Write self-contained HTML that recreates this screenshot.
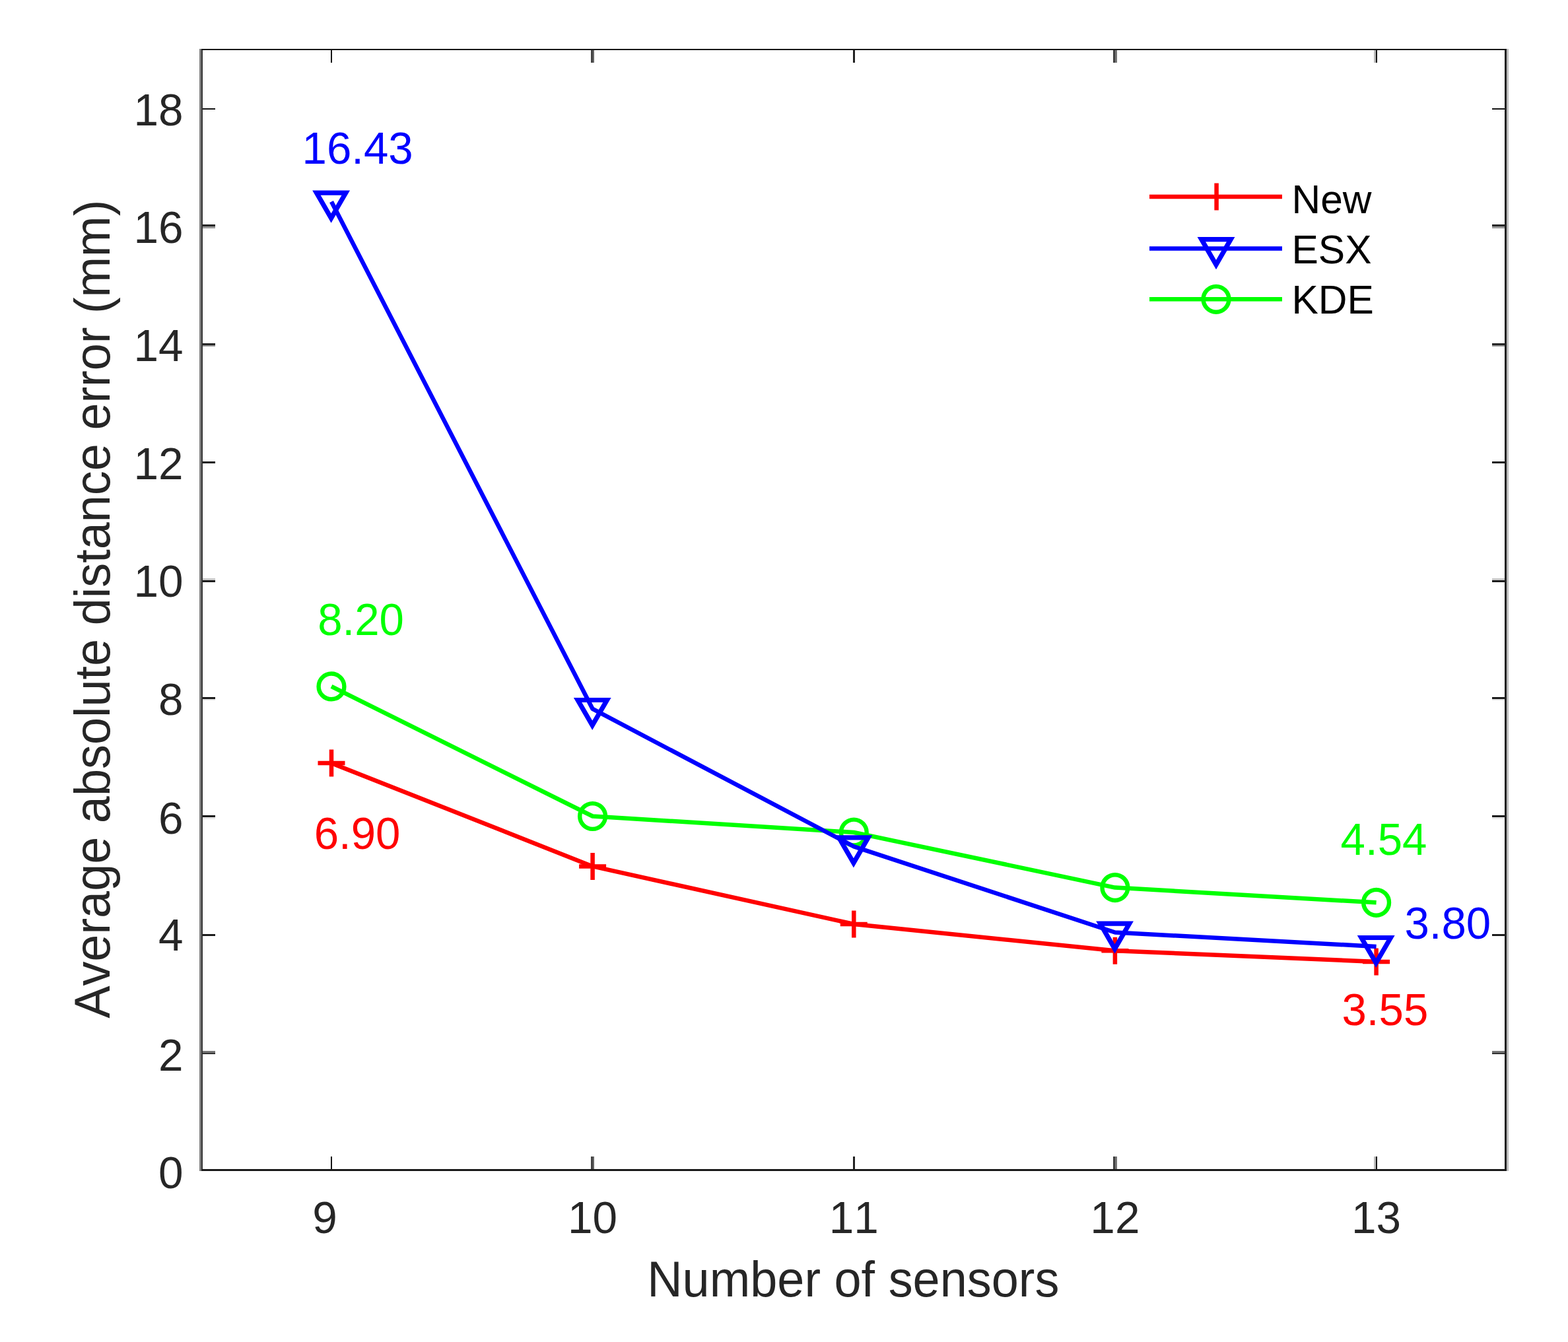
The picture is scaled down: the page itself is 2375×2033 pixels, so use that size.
<!DOCTYPE html>
<html lang="en">
<head>
<meta charset="utf-8">
<title>Average absolute distance error vs number of sensors</title>
<style>
html,body{margin:0;padding:0;background:#fff;}
body{width:2375px;height:2033px;overflow:hidden;}
svg{display:block;}
text{font-family:"Liberation Sans",sans-serif;font-kerning:none;}
.tick{font-size:67.5px;fill:#262626;}
.lab{font-size:73.9px;fill:#262626;}
.leg{font-size:60.5px;fill:#000;}
.val{font-size:67.2px;}
</style>
</head>
<body>
<svg width="2375" height="2033" viewBox="0 0 2375 2033">
<rect x="0" y="0" width="2375" height="2033" fill="#fff"/>

<g id="axes" shape-rendering="crispEdges">
<rect x="302" y="74" width="3" height="1700" fill="#7d7d7d"/>
<rect x="305" y="74" width="2" height="1700" fill="#333"/>
<rect x="2279" y="74" width="3" height="1700" fill="#222"/>
<rect x="2282" y="74" width="3" height="1700" fill="#bdbdbd"/>
<rect x="305" y="74" width="1977" height="2" fill="#161616"/>
<rect x="305" y="1771" width="1977" height="3" fill="#1a1a1a"/>
<rect x="501" y="1752" width="2" height="19" fill="#141414"/>
<rect x="501" y="76" width="2" height="19" fill="#141414"/>
<rect x="895" y="1752" width="3" height="19" fill="#444"/>
<rect x="895" y="76" width="3" height="19" fill="#444"/>
<rect x="898" y="1752" width="2" height="19" fill="#686868"/>
<rect x="898" y="76" width="2" height="19" fill="#686868"/>
<rect x="1292" y="1752" width="3" height="19" fill="#222"/>
<rect x="1292" y="76" width="3" height="19" fill="#222"/>
<rect x="1686" y="1752" width="3" height="19" fill="#424242"/>
<rect x="1686" y="76" width="3" height="19" fill="#424242"/>
<rect x="1689" y="1752" width="3" height="19" fill="#757575"/>
<rect x="1689" y="76" width="3" height="19" fill="#757575"/>
<rect x="2081" y="1752" width="3" height="19" fill="#bbb"/>
<rect x="2081" y="76" width="3" height="19" fill="#bbb"/>
<rect x="2084" y="1752" width="2" height="19" fill="#141414"/>
<rect x="2084" y="76" width="2" height="19" fill="#141414"/>
<rect x="307" y="1592" width="19" height="3" fill="#757575"/>
<rect x="2260" y="1592" width="19" height="3" fill="#757575"/>
<rect x="307" y="1595" width="19" height="2" fill="#333"/>
<rect x="2260" y="1595" width="19" height="2" fill="#333"/>
<rect x="307" y="1415" width="19" height="3" fill="#1c1c1c"/>
<rect x="2260" y="1415" width="19" height="3" fill="#1c1c1c"/>
<rect x="307" y="1235" width="19" height="3" fill="#1c1c1c"/>
<rect x="2260" y="1235" width="19" height="3" fill="#1c1c1c"/>
<rect x="307" y="1238" width="19" height="3" fill="#e6e6e6"/>
<rect x="2260" y="1238" width="19" height="3" fill="#e6e6e6"/>
<rect x="307" y="1056" width="19" height="3" fill="#1c1c1c"/>
<rect x="2260" y="1056" width="19" height="3" fill="#1c1c1c"/>
<rect x="307" y="1059" width="19" height="2" fill="#e2e2e2"/>
<rect x="2260" y="1059" width="19" height="2" fill="#e2e2e2"/>
<rect x="307" y="876" width="19" height="3" fill="#cacaca"/>
<rect x="2260" y="876" width="19" height="3" fill="#cacaca"/>
<rect x="307" y="879" width="19" height="3" fill="#1c1c1c"/>
<rect x="2260" y="879" width="19" height="3" fill="#1c1c1c"/>
<rect x="307" y="699" width="19" height="3" fill="#1a1a1a"/>
<rect x="2260" y="699" width="19" height="3" fill="#1a1a1a"/>
<rect x="307" y="520" width="19" height="3" fill="#262626"/>
<rect x="2260" y="520" width="19" height="3" fill="#262626"/>
<rect x="307" y="523" width="19" height="2" fill="#9a9a9a"/>
<rect x="2260" y="523" width="19" height="2" fill="#9a9a9a"/>
<rect x="307" y="340" width="19" height="3" fill="#262626"/>
<rect x="2260" y="340" width="19" height="3" fill="#262626"/>
<rect x="307" y="343" width="19" height="3" fill="#9a9a9a"/>
<rect x="2260" y="343" width="19" height="3" fill="#9a9a9a"/>
<rect x="307" y="164" width="19" height="2" fill="#141414"/>
<rect x="2260" y="164" width="19" height="2" fill="#141414"/>
</g>
<g>
<text class="tick" transform="translate(492.0 1867.6) scale(1 1.02)" text-anchor="middle">9</text>
<text class="tick" transform="translate(897.6 1867.6) scale(1 1.02)" text-anchor="middle">10</text>
<text class="tick" transform="translate(1293.3 1867.6) scale(1 1.02)" text-anchor="middle">11</text>
<text class="tick" transform="translate(1688.9 1867.6) scale(1 1.02)" text-anchor="middle">12</text>
<text class="tick" transform="translate(2084.6 1867.6) scale(1 1.02)" text-anchor="middle">13</text>
<text class="tick" transform="translate(277.5 1800.4) scale(1 1.02)" text-anchor="end">0</text>
<text class="tick" transform="translate(277.5 1621.7) scale(1 1.02)" text-anchor="end">2</text>
<text class="tick" transform="translate(277.5 1440.4) scale(1 1.02)" text-anchor="end">4</text>
<text class="tick" transform="translate(277.5 1263.4) scale(1 1.02)" text-anchor="end">6</text>
<text class="tick" transform="translate(277.5 1083.1) scale(1 1.02)" text-anchor="end">8</text>
<text class="tick" transform="translate(277.5 904.4) scale(1 1.02)" text-anchor="end">10</text>
<text class="tick" transform="translate(277.5 725.7) scale(1 1.02)" text-anchor="end">12</text>
<text class="tick" transform="translate(277.5 547.0) scale(1 1.02)" text-anchor="end">14</text>
<text class="tick" transform="translate(277.5 368.4) scale(1 1.02)" text-anchor="end">16</text>
<text class="tick" transform="translate(277.5 189.7) scale(1 1.02)" text-anchor="end">18</text>
</g>
<text class="lab" transform="translate(1292.3 1964.3) scale(1 1.025)" text-anchor="middle">Number of sensors</text>
<text class="lab" transform="translate(166 922.8) rotate(-90) scale(1 1.02)" text-anchor="middle">Average absolute distance error (mm)</text>
<g fill="none" stroke="#ff0000" stroke-width="6.5" stroke-linejoin="miter" stroke-miterlimit="10">
<polyline points="502.0,1156.1 897.6,1312.4 1293.3,1400.0 1688.9,1440.2 2084.6,1457.0" stroke-linejoin="round"/>
<path d="M481.5 1156.1H522.5M502.0 1135.6V1176.6"/>
<path d="M877.1 1312.4H918.1M897.6 1291.9V1332.9"/>
<path d="M1272.8 1400.0H1313.8M1293.3 1379.5V1420.5"/>
<path d="M1668.4 1440.2H1709.4M1688.9 1419.7V1460.7"/>
<path d="M2064.1 1457.0H2105.1M2084.6 1436.5V1477.5"/>
</g>
<g fill="none" stroke="#00ff00" stroke-width="6.5" stroke-linejoin="miter" stroke-miterlimit="10">
<polyline points="502.0,1039.9 897.6,1236.5 1293.3,1261.0 1688.9,1344.6 2084.6,1367.3" stroke-linejoin="round"/>
<circle cx="502.0" cy="1039.9" r="19.4" stroke-width="6.4"/>
<circle cx="897.6" cy="1236.5" r="19.4" stroke-width="6.4"/>
<circle cx="1293.3" cy="1261.0" r="19.4" stroke-width="6.4"/>
<circle cx="1688.9" cy="1344.6" r="19.4" stroke-width="6.4"/>
<circle cx="2084.6" cy="1367.3" r="19.4" stroke-width="6.4"/>
</g>
<g fill="none" stroke="#0000ff" stroke-width="6.5" stroke-linejoin="miter" stroke-miterlimit="10">
<polyline points="502.0,305.5 897.6,1073.9 1293.3,1282.3 1688.9,1412.5 2084.6,1433.9" stroke-linejoin="round"/>
<path stroke-width="7.2" d="M479.4 292.1H523.8L501.6 330.5Z"/>
<path stroke-width="7.2" d="M875.1 1060.5H919.4L897.2 1098.9Z"/>
<path stroke-width="7.2" d="M1270.7 1268.9H1315.1L1292.9 1307.3Z"/>
<path stroke-width="7.2" d="M1666.4 1399.1H1710.7L1688.5 1437.5Z"/>
<path stroke-width="7.2" d="M2062.0 1420.5H2106.4L2084.2 1458.9Z"/>
</g>
<g>
<text class="val" transform="translate(457.6 247.6) scale(1 1.02)" fill="#0000ff">16.43</text>
<text class="val" transform="translate(481.2 962.4) scale(1 1.02)" fill="#00ff00">8.20</text>
<text class="val" transform="translate(475.7 1285.7) scale(1 1.02)" fill="#ff0000">6.90</text>
<text class="val" transform="translate(2030.6 1294.9) scale(1 1.02)" fill="#00ff00">4.54</text>
<text class="val" transform="translate(2127.4 1422.0) scale(1 1.02)" fill="#0000ff">3.80</text>
<text class="val" transform="translate(2032.5 1553.0) scale(1 1.02)" fill="#ff0000">3.55</text>
</g>
<g id="legend">
<g fill="none" stroke="#ff0000" stroke-width="6.5">
<path d="M1741 298H1942"/>
<path d="M1842.6 277.5V318.5"/>
</g>
<text class="leg" transform="translate(1956.5 323.0) scale(1 1.02)">New</text>
<g fill="none" stroke="#0000ff" stroke-width="6.5">
<path d="M1741 376.5H1942"/>
<path stroke-width="7.2" d="M1819.8 362.6H1864.2L1842.0 401.0Z"/>
</g>
<text class="leg" transform="translate(1956.5 398.9) scale(1 1.02)">ESX</text>
<g fill="none" stroke="#00ff00" stroke-width="6.5">
<path d="M1741 453.3H1942"/>
<circle cx="1842.0" cy="453.3" r="19.4" stroke-width="6.4"/>
</g>
<text class="leg" transform="translate(1956.5 475.2) scale(1 1.02)">KDE</text>
</g>
</svg>
</body>
</html>
